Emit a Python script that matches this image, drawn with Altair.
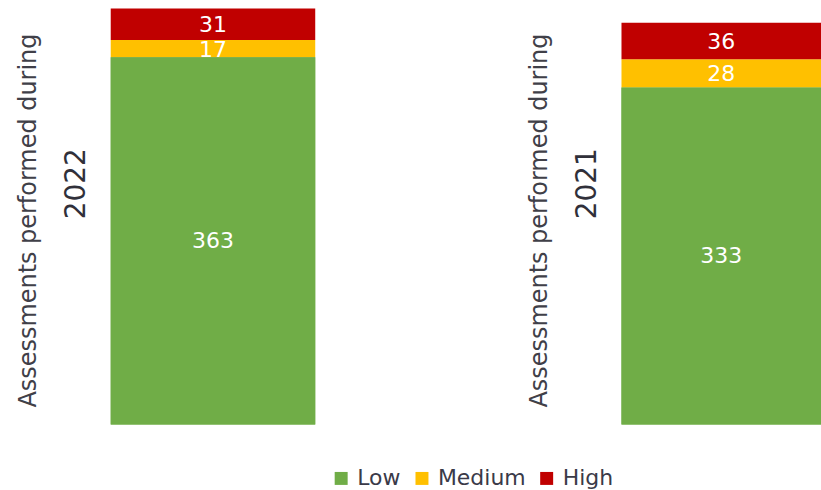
import altair as alt
import pandas as pd

# Risk assessments by level, per year
years = ["2022", "2021"]
levels = ["Low", "Medium", "High"]
low = [363, 333]
medium = [17, 28]
high = [31, 36]
level_colors = ["#70AD47", "#FFC000", "#C00000"]

rows = []
for i, yr in enumerate(years):
    for rank, (lvl, val) in enumerate(zip(levels, [low[i], medium[i], high[i]])):
        rows.append({"year": yr, "level": lvl, "count": val, "rank": rank})
df = pd.DataFrame(rows)
y_max = max(l + m + h for l, m, h in zip(low, medium, high))

FONT = "DejaVu Sans"


def panel(year, width):
    base = (
        alt.Chart(df)
        .transform_filter(alt.datum.year == year)
        .transform_stack(
            stack="count", groupby=["year"], as_=["y0", "y1"],
            sort=[alt.SortField("rank", order="ascending")],
        )
        .transform_calculate(mid="(datum.y0 + datum.y1) / 2")
    )
    yscale = alt.Scale(domain=[0, y_max], nice=False, zero=True)
    xenc = alt.X("year:N", axis=None,
                 scale=alt.Scale(paddingInner=0, paddingOuter=0))
    color = alt.Color(
        "level:N",
        scale=alt.Scale(domain=levels, range=level_colors),
        legend=alt.Legend(
            title=None, orient="none", direction="horizontal",
            legendX=220, legendY=460,
            symbolType="square", symbolSize=169, symbolStrokeWidth=0,
            labelFontSize=22, labelFont=FONT, labelColor="#3a3a48",
            labelOffset=5, columnPadding=10,
        ),
    )
    bars = base.mark_bar().encode(
        x=xenc,
        y=alt.Y("y0:Q", scale=yscale, axis=alt.Axis(
            title="Assessments performed during", orient="left",
            labels=False, ticks=False, domain=False, grid=False,
            minExtent=0, titlePadding=70, titleFontSize=24, titleY=212,
            titleFont=FONT, titleFontWeight="normal", titleColor="#404048",
        )),
        y2="y1:Q",
        color=color,
    )
    labels_top = base.transform_filter(alt.datum.level != "Low").mark_text(
        color="white", fontSize=22, font=FONT, baseline="middle", dy=1
    ).encode(
        x=xenc,
        y=alt.Y("mid:Q", scale=yscale, axis=alt.Axis(
            title=year, orient="left",
            labels=False, ticks=False, domain=False, grid=False,
            minExtent=0, titlePadding=20, titleFontSize=28, titleY=175,
            titleFont=FONT, titleFontWeight="normal", titleColor="#30303a",
        )),
        text="count:Q",
    )
    low_bar = base.transform_filter(alt.datum.level == "Low").mark_bar().encode(
        x=xenc,
        y=alt.Y("y0:Q", scale=yscale, axis=None),
        y2="y1:Q",
        color=color,
    )
    low_label = base.transform_filter(alt.datum.level == "Low").mark_text(
        color="white", fontSize=22, font=FONT, baseline="middle"
    ).encode(
        x=xenc,
        y=alt.Y("mid:Q", scale=yscale, axis=None),
        text="count:Q",
    )
    return (
        alt.layer(bars, labels_top, low_bar, low_label)
        .resolve_axis(y="independent")
        .properties(width=width, height=417)
    )


chart = (
    alt.hconcat(panel("2022", 205), panel("2021", 200), spacing=213)
    .properties(padding={"left": 17, "top": 8, "right": 0, "bottom": 0})
    .configure_view(strokeWidth=0)
)

chart.save("out.html", embed_options={"renderer": "svg", "actions": False})
